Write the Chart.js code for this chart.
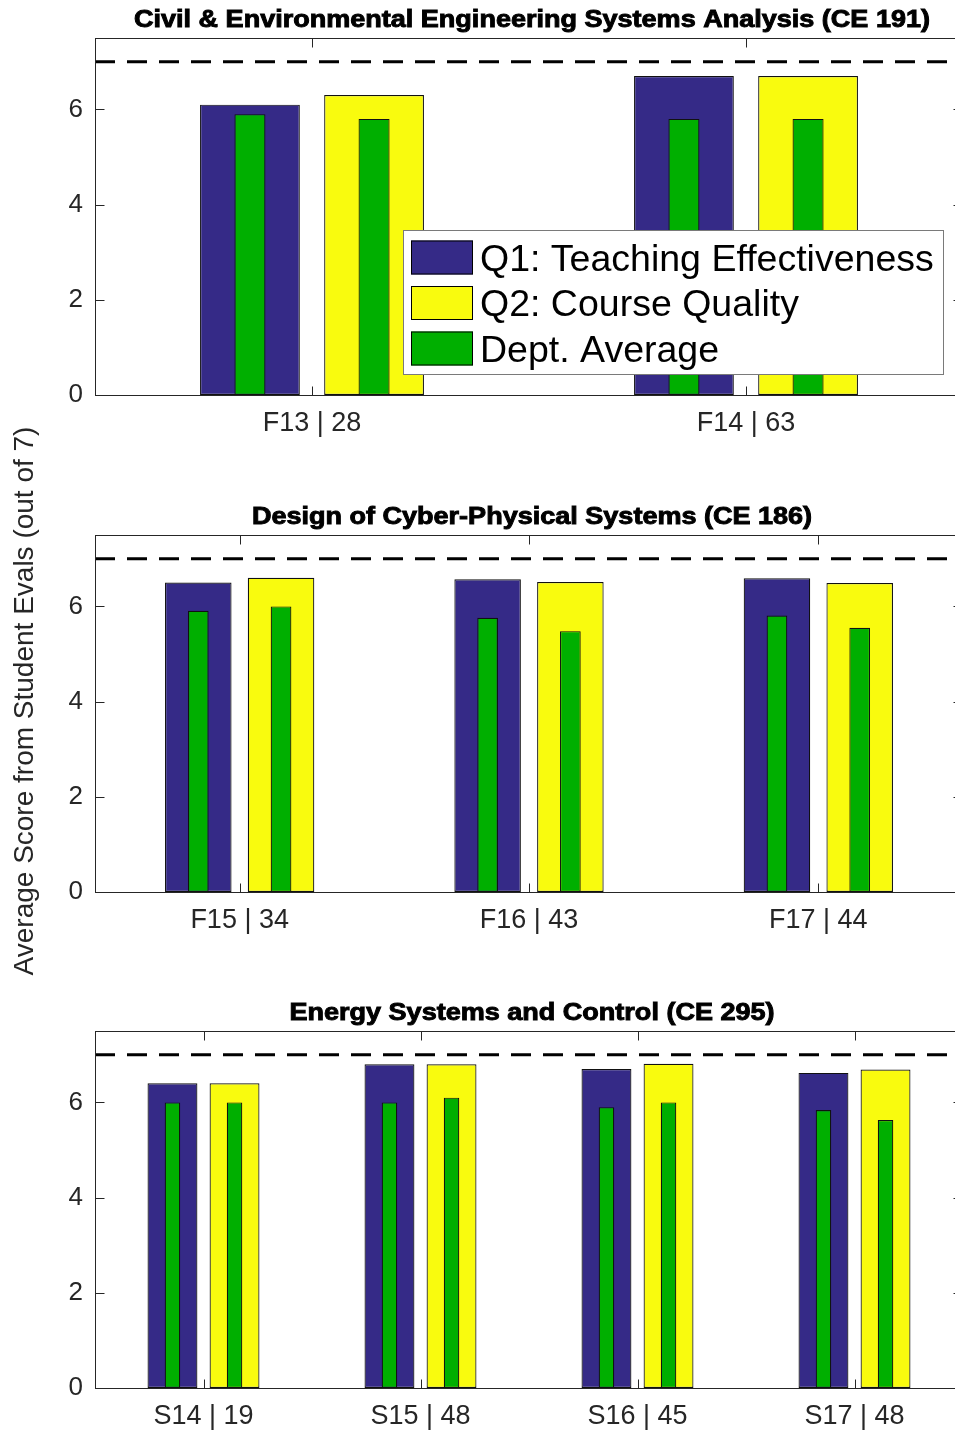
<!DOCTYPE html>
<html><head><meta charset="utf-8">
<script src="https://cdn.jsdelivr.net/npm/chart.js@4"></script>
<style>
html,body{margin:0;padding:0;background:#fff;overflow:hidden;}
#wrap{position:relative;width:955px;height:1431px;overflow:hidden;background:#fff;}
canvas{position:absolute;left:0;}
#ylab{position:absolute;left:-278px;top:687px;width:600px;height:28px;line-height:28px;text-align:center;font:28px 'Liberation Sans',Arial,sans-serif;color:#262626;transform:rotate(-90deg);white-space:nowrap;}
</style></head><body>
<div id="wrap">
<canvas id="c1" width="965" height="460" style="top:0px"></canvas>
<canvas id="c2" width="965" height="497" style="top:460px"></canvas>
<canvas id="c3" width="965" height="474" style="top:957px"></canvas>
<div id="ylab">Average Score from Student Evals (out of 7)</div>
</div>
<script>
// ---- data ----
const seriesLabels = ['Q1: Teaching Effectiveness', 'Q2: Course Quality', 'Dept. Average'];
const seriesColors = ['#352A87', '#F9FB0E', '#00AF00'];
const yTicks = [0, 2, 4, 6];
const yMax = 7.5;
const targetScore = 7;

const ce191Title = 'Civil & Environmental Engineering Systems Analysis (CE 191)';
const ce191Terms = ['F13 | 28', 'F14 | 63'];
const ce191Q1 = [6.1, 6.7];
const ce191Q2 = [6.3, 6.7];
const ce191DeptQ1 = [5.9, 5.8];
const ce191DeptQ2 = [5.8, 5.8];

const ce186Title = 'Design of Cyber-Physical Systems (CE 186)';
const ce186Terms = ['F15 | 34', 'F16 | 43', 'F17 | 44'];
const ce186Q1 = [6.5, 6.57, 6.59];
const ce186Q2 = [6.6, 6.51, 6.49];
const ce186DeptQ1 = [5.91, 5.76, 5.81];
const ce186DeptQ2 = [6.0, 5.48, 5.55];

const ce295Title = 'Energy Systems and Control (CE 295)';
const ce295Terms = ['S14 | 19', 'S15 | 48', 'S16 | 45', 'S17 | 48'];
const ce295Q1 = [6.4, 6.8, 6.7, 6.62];
const ce295Q2 = [6.4, 6.8, 6.81, 6.69];
const ce295DeptQ1 = [6.0, 6.0, 5.9, 5.84];
const ce295DeptQ2 = [6.0, 6.1, 6.0, 5.63];

// ---- rendering ----
const FONT = "'Liberation Sans', Arial, Helvetica, sans-serif";
const AXC = '#262626';

const axesPlugin = {
  id: 'matlabAxes',
  afterDatasetsDraw(chart) {
    const {ctx, chartArea: a, scales: {x, y}} = chart;
    const L = Math.round(a.left) + 0.5, R = Math.round(a.right) - 0.5;
    const T = Math.round(a.top) + 0.5, B = Math.round(a.bottom) + 0.5;
    // reference line
    ctx.save();
    ctx.strokeStyle = '#000'; ctx.lineWidth = 3; ctx.setLineDash([20, 12]);
    const yy = y.getPixelForValue(targetScore);
    ctx.beginPath(); ctx.moveTo(a.left, yy); ctx.lineTo(a.right, yy); ctx.stroke();
    ctx.restore();
    // box + inward ticks
    ctx.save();
    ctx.strokeStyle = AXC; ctx.lineWidth = 1;
    ctx.strokeRect(L, T, R - L, B - T);
    const tl = 9;
    ctx.beginPath();
    y.ticks.forEach(t => {
      const p = Math.round(y.getPixelForValue(t.value)) + 0.5;
      ctx.moveTo(L, p); ctx.lineTo(L + tl, p);
      ctx.moveTo(R, p); ctx.lineTo(R - tl, p);
    });
    x.ticks.forEach((t, i) => {
      const p = Math.round(x.getPixelForTick(i)) + 0.5;
      ctx.moveTo(p, B); ctx.lineTo(p, B - tl);
      ctx.moveTo(p, T); ctx.lineTo(p, T + tl);
    });
    ctx.stroke();
    ctx.restore();
  },
  afterDraw(chart, args, opts) {
    const {ctx, chartArea: a} = chart;
    // title
    ctx.save();
    ctx.translate((a.left + a.right) / 2 + 3, a.top - 11.5);
    ctx.scale(1.175, 1);
    ctx.font = 'bold 23px ' + FONT;
    ctx.textAlign = 'center'; ctx.textBaseline = 'alphabetic';
    ctx.fillStyle = '#000'; ctx.strokeStyle = '#000'; ctx.lineWidth = 0.9;
    ctx.fillText(opts.title, 0, 0);
    ctx.strokeText(opts.title, 0, 0);
    ctx.restore();
    // legend
    if (opts.legend) {
      const bx = 403, by = 230.5, bw = 540, bh = 144;
      ctx.save();
      ctx.fillStyle = '#fff'; ctx.fillRect(bx, by, bw, bh);
      ctx.strokeStyle = '#7a7a7a'; ctx.lineWidth = 1; ctx.strokeRect(bx + 0.5, by, bw, bh);
      ctx.font = '37.5px ' + FONT; ctx.textBaseline = 'middle'; ctx.textAlign = 'left';
      seriesLabels.forEach((lab, i) => {
        const ry = 240.5 + i * 45.5;
        ctx.fillStyle = seriesColors[i]; ctx.fillRect(411, ry, 62, 34);
        ctx.strokeStyle = '#000'; ctx.strokeRect(411.5, ry + 0.5, 61, 33);
        ctx.fillStyle = '#000'; ctx.fillText(lab, 480, ry + 20);
      });
      ctx.restore();
    }
  }
};

function makeChart(id, title, terms, q1, q2, d1, d2, padTop, xAxisH, legend) {
  const barBase = {borderColor: '#111', borderWidth: 1.2, borderSkipped: false, categoryPercentage: 0.572};
  return new Chart(document.getElementById(id), {
    type: 'bar',
    data: {
      labels: terms,
      datasets: [
        Object.assign({label: seriesLabels[0], data: q1, backgroundColor: seriesColors[0], stack: 'q1', barPercentage: 0.804, order: 2}, barBase),
        Object.assign({label: seriesLabels[1], data: q2, backgroundColor: seriesColors[1], stack: 'q2', barPercentage: 0.804, order: 2}, barBase),
        Object.assign({label: seriesLabels[2], data: d1, backgroundColor: seriesColors[2], stack: 'q1', barPercentage: 0.25, order: 1}, barBase),
        Object.assign({label: seriesLabels[2], data: d2, backgroundColor: seriesColors[2], stack: 'q2', barPercentage: 0.25, order: 1}, barBase)
      ]
    },
    options: {
      responsive: false, animation: false, devicePixelRatio: 1,
      layout: {padding: {top: padTop, right: 2, left: 0, bottom: 0}},
      plugins: {legend: {display: false}, tooltip: {enabled: false}, title: {display: false},
        matlabAxes: {title: title, legend: legend}},
      scales: {
        x: {stacked: true, offset: true,
          grid: {display: false, drawTicks: false}, border: {display: false},
          ticks: {font: {size: 27, family: FONT}, color: AXC, padding: 12, maxRotation: 0, autoSkip: false},
          afterFit: s => { s.height = xAxisH; }},
        y: {stacked: false, min: 0, max: yMax,
          grid: {display: false, drawTicks: false}, border: {display: false},
          ticks: {font: {size: 26, family: FONT}, color: AXC, padding: 12},
          afterBuildTicks: s => { s.ticks = yTicks.map(v => ({value: v})); },
          afterFit: s => { s.width = 95; }}
      }
    },
    plugins: [axesPlugin]
  });
}

makeChart('c1', ce191Title, ce191Terms, ce191Q1, ce191Q2, ce191DeptQ1, ce191DeptQ2, 38, 65, true);
makeChart('c2', ce186Title, ce186Terms, ce186Q1, ce186Q2, ce186DeptQ1, ce186DeptQ2, 75, 65, false);
makeChart('c3', ce295Title, ce295Terms, ce295Q1, ce295Q2, ce295DeptQ1, ce295DeptQ2, 74, 43, false);
</script>
</body></html>
